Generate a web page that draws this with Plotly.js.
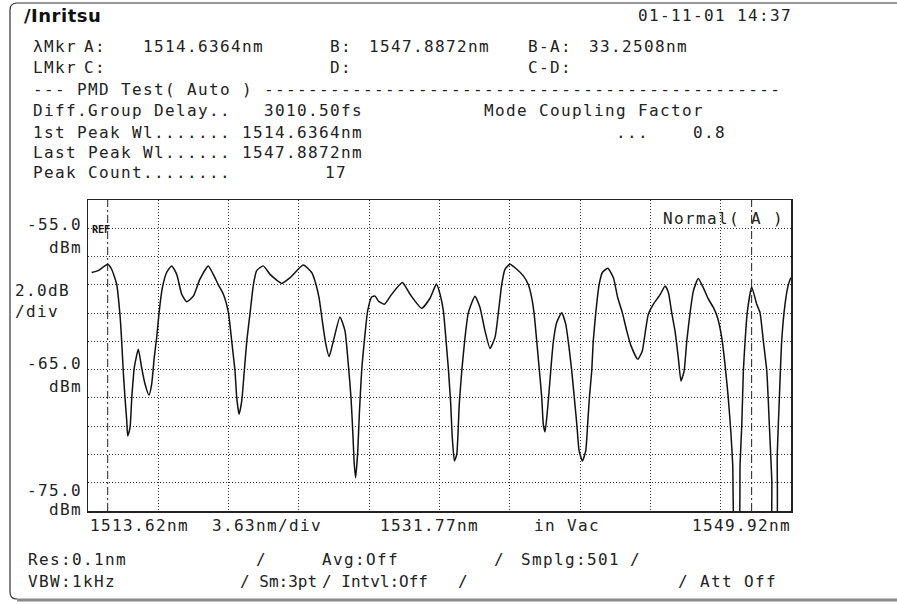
<!DOCTYPE html>
<html>
<head>
<meta charset="utf-8">
<script src="https://cdn.plot.ly/plotly-3.0.1.min.js"></script>
<style>
  html, body { margin: 0; padding: 0; background: #fff; }
  #plot { width: 897px; height: 604px; }
  .annotation-text { letter-spacing: 1.37px; }
</style>
</head>
<body>
<div id="plot"></div>
<script>
// ---- data ----
const wavelength = [
  1513.81, 1514.15, 1514.64, 1514.84, 1515.10,
  1515.27, 1515.36, 1515.44, 1515.53, 1515.62,
  1515.67, 1515.79, 1515.88, 1516.01, 1516.22,
  1516.39, 1516.56, 1516.77, 1516.91, 1517.04,
  1517.17, 1517.29, 1517.46, 1517.68, 1517.94,
  1518.20, 1518.46, 1518.72, 1519.06, 1519.40,
  1519.83, 1520.09, 1520.35, 1520.61, 1520.87,
  1521.04, 1521.21, 1521.30, 1521.42, 1521.56,
  1521.69, 1521.82, 1521.99, 1522.16, 1522.33,
  1522.67, 1523.02, 1523.62, 1524.05, 1524.74,
  1525.17, 1525.34, 1525.55, 1525.72, 1525.90,
  1526.07, 1526.29, 1526.63, 1526.89, 1527.06,
  1527.20, 1527.29, 1527.37, 1527.44, 1527.55,
  1527.63, 1527.75, 1527.89, 1528.06, 1528.27,
  1528.44, 1528.61, 1528.92, 1529.30, 1529.85,
  1530.25, 1530.85, 1531.28, 1531.61, 1531.80,
  1531.97, 1532.11, 1532.23, 1532.35, 1532.43,
  1532.54, 1532.66, 1532.79, 1532.92, 1533.09,
  1533.26, 1533.60, 1533.86, 1534.12, 1534.38,
  1534.64, 1534.81, 1534.98, 1535.15, 1535.41,
  1535.76, 1536.10, 1536.36, 1536.53, 1536.65,
  1536.79, 1536.93, 1537.05, 1537.13, 1537.22,
  1537.35, 1537.46, 1537.56, 1537.65, 1537.82,
  1538.08, 1538.29, 1538.46, 1538.60, 1538.73,
  1538.86, 1538.98, 1539.15, 1539.32, 1539.42,
  1539.51, 1539.63, 1539.71, 1539.84, 1540.01,
  1540.18, 1540.46, 1540.75, 1540.97, 1541.21,
  1541.44, 1541.66, 1542.01, 1542.24, 1542.38,
  1542.55, 1542.81, 1543.16, 1543.42, 1543.59,
  1543.76, 1543.93, 1544.10, 1544.24, 1544.40,
  1544.54, 1544.71, 1544.88, 1545.13, 1545.39,
  1545.65, 1545.91, 1546.12, 1546.34, 1546.51,
  1546.68, 1546.81, 1546.91, 1547.03, 1547.20,
  1547.29, 1547.38, 1547.46, 1547.55, 1547.66,
  1547.89, 1548.15, 1548.32, 1548.49, 1548.67,
  1548.80, 1548.93, 1548.98, 1549.15, 1549.21,
  1549.32, 1549.44, 1549.61, 1549.78, 1549.91
];
const powerDbm = [
  -58.13, -58.0, -57.55, -57.9, -58.96,
  -61.1, -63.0, -65.1, -67.0, -68.6,
  -69.7, -69.1, -67.0, -64.86, -63.56,
  -64.86, -66.0, -66.8, -66.0, -64.15,
  -62.7, -60.97, -59.2, -58.13, -57.66,
  -58.26, -59.67, -60.2, -59.8, -58.6,
  -57.66, -58.26, -59.0, -59.67, -60.97,
  -62.97, -65.1, -66.98, -68.16, -67.2,
  -65.1, -62.97, -60.97, -59.0, -58.0,
  -57.66, -58.26, -58.9, -58.5, -57.6,
  -58.13, -58.73, -59.9, -61.56, -63.2,
  -64.08, -62.97, -61.27, -62.26, -64.6,
  -66.98, -69.34, -71.7, -72.64, -70.75,
  -68.16, -65.1, -62.97, -60.85, -59.86,
  -59.8, -60.14, -60.38, -59.67, -58.84,
  -59.67, -60.66, -59.95, -58.95, -59.67,
  -60.85, -62.97, -64.98, -67.45, -69.8,
  -71.46, -71.0, -67.45, -65.1, -62.7,
  -60.97, -59.8, -60.6, -62.26, -63.5,
  -62.7, -60.97, -59.0, -57.9, -57.55,
  -57.9, -58.37, -59.0, -59.9, -60.97,
  -62.97, -65.1, -66.98, -68.87, -69.4,
  -67.8, -66.0, -64.3, -63.0, -61.67,
  -60.97, -61.8, -63.44, -65.1, -66.98,
  -68.87, -70.75, -71.46, -70.75, -68.87,
  -66.98, -65.1, -62.97, -60.97, -59.0,
  -58.13, -57.83, -58.5, -59.9, -60.97,
  -62.26, -63.32, -64.27, -63.68, -62.5,
  -61.09, -60.38, -59.7, -59.08, -59.55,
  -60.97, -62.26, -64.15, -65.8, -65.1,
  -62.97, -60.97, -59.43, -58.56, -59.2,
  -60.0, -60.6, -61.3, -62.7, -64.6,
  -66.98, -69.34, -71.7, -77, -77,
  -71.7, -68.87, -65.1, -62.97, -60.97,
  -59.15, -60.38, -60.97, -62.97, -65.1,
  -68.87, -72.88, -77, -77, -71.0,
  -66.98, -62.97, -60.38, -59.0, -58.5
];
const markerWavelengths = [1514.6364, 1547.8872];   // λMkr A, B
const xStart = 1513.62, xStep = 3.63, xEnd = 1549.92;
const yBottom = -75.0, yTop = -53.0, yStep = 2.0;
const xTickLabels = ["1513.62nm", "3.63nm/div", "1531.77nm", "in Vac", "1549.92nm"];
const yTickLabels = ["-55.0", "-65.0", "-75.0"];

// ---- layout helpers (pixel -> paper) ----
const L = 88, R = 791, T = 200, B = 511;
const X = px => (px - L) / (R - L);
const Y = py => (B - py) / (B - T);
const FONT = 'DejaVu Sans Mono';
const INK = '#222';
function txt(s, px, py, o) {
  o = o || {};
  let t = s.replace(/ /g, '\u00a0');
  if (o.ls !== undefined) t = '<span style="letter-spacing:' + o.ls + 'px">' + t + '</span>';
  return {
    text: t,
    xref: 'paper', yref: 'paper', x: X(px), y: Y(py),
    xanchor: o.anchor || 'left', yanchor: 'middle', showarrow: false,
    borderpad: 0, borderwidth: 0,
    font: { family: o.family || FONT, size: o.size || 16, color: o.color || INK, weight: o.weight || 'normal' }
  };
}
const col = c => 33 + c * 11;

const ann = [];
ann.push(txt('/Inritsu', 24, 16, { family: 'DejaVu Sans', size: 18, weight: 'bold', color: '#111', ls: 0.5 }));
ann.push(txt('01-11-01 14:37', col(55), 16));
// λMkr row
ann.push(txt('λMkr', col(0), 46));
ann.push(txt('A:', 84, 46));
ann.push(txt('1514.6364nm', col(10), 46));
ann.push(txt('B:', col(27), 46));
ann.push(txt('1547.8872nm', col(30.5), 46));
ann.push(txt('B-A:', col(45), 46));
ann.push(txt('33.2508nm', col(50.5), 46));
// LMkr row
ann.push(txt('LMkr', col(0), 67));
ann.push(txt('C:', 84, 67));
ann.push(txt('D:', col(27), 67));
ann.push(txt('C-D:', col(45), 67));
// PMD block
ann.push(txt('--- PMD Test( Auto ) ' + '-'.repeat(47), col(0), 89));
ann.push(txt('Diff.Group Delay..', col(0), 110));
ann.push(txt('3010.50fs', col(21), 110));
ann.push(txt('Mode Coupling Factor', col(41), 110));
ann.push(txt('1st Peak Wl.......', col(0), 132));
ann.push(txt('1514.6364nm', col(19), 132));
ann.push(txt('...', col(53), 132));
ann.push(txt('0.8', col(60), 132));
ann.push(txt('Last Peak Wl......', col(0), 152));
ann.push(txt('1547.8872nm', col(19), 152));
ann.push(txt('Peak Count........', col(0), 172));
ann.push(txt('17', col(26.5), 172));

// in-plot labels
ann.push(txt('REF', 92, 229, { size: 10, weight: 'bold', color: '#111', ls: 0 }));
ann.push(txt('Normal( A )', 663, 219));

// y labels
ann.push(txt(yTickLabels[0], 27, 224));
ann.push(txt('dBm', 49, 247));
ann.push(txt('2.0dB', 15, 290));
ann.push(txt('/div', 15, 311));
ann.push(txt(yTickLabels[1], 27, 363));
ann.push(txt('dBm', 49, 386));
ann.push(txt(yTickLabels[2], 27, 490));
ann.push(txt('dBm', 49, 509));

// x labels
ann.push(txt(xTickLabels[0], 90, 525));
ann.push(txt(xTickLabels[1], 212, 525));
ann.push(txt(xTickLabels[2], 380, 525));
ann.push(txt(xTickLabels[3], 534, 525));
ann.push(txt(xTickLabels[4], 791, 525, { anchor: 'right' }));

// settings rows
ann.push(txt('Res:0.1nm', 28, 559));
ann.push(txt('/', 256, 559));
ann.push(txt('Avg:Off', 322, 559));
ann.push(txt('/', 494, 559));
ann.push(txt('Smplg:501', 521, 559));
ann.push(txt('/', 630, 559));
ann.push(txt('VBW:1kHz', 28, 581));
ann.push(txt('/ Sm:3pt', 240, 581, { ls: 0 }));
ann.push(txt('/ Intvl:Off', 322, 581, { ls: 0 }));
ann.push(txt('/', 458, 581));
ann.push(txt('/ Att Off', 678, 581));

// shapes: marker lines + outer frame
const shapes = markerWavelengths.map(w => ({
  type: 'line', xref: 'x', yref: 'paper', x0: w, x1: w, y0: 0, y1: 1,
  line: { color: '#222', width: 1, dash: '8px,3px,2px,3px' }
}));
const P = (px, py) => X(px).toFixed(5) + ',' + Y(py).toFixed(5);
shapes.push({
  type: 'path', xref: 'paper', yref: 'paper',
  path: 'M' + P(897, 3) + ' L' + P(17, 3) + ' Q' + P(10, 3) + ' ' + P(10, 10) +
        ' L' + P(10, 592) + ' Q' + P(10, 599) + ' ' + P(17, 599),
  line: { color: '#333', width: 1.2 }
});
shapes.push({
  type: 'line', xref: 'paper', yref: 'paper',
  x0: X(17), x1: X(897), y0: Y(600), y1: Y(600),
  line: { color: '#8a8a8a', width: 3 }
});

const trace = {
  type: 'scatter', mode: 'lines',
  x: wavelength, y: powerDbm,
  line: { color: '#111', width: 1.5, shape: 'spline', smoothing: 0.5 },
  hoverinfo: 'skip'
};

const layout = {
  width: 897, height: 604,
  margin: { l: L, r: 897 - R, t: T, b: 604 - B, pad: 0 },
  paper_bgcolor: '#fff', plot_bgcolor: '#fff',
  showlegend: false,
  xaxis: {
    range: [xStart, xEnd], tick0: xStart, dtick: xStep, tickmode: 'linear',
    showticklabels: false, ticks: '', zeroline: false,
    showgrid: true, gridcolor: '#333', gridwidth: 1, griddash: '1px,2px',
    showline: true, linecolor: '#222', linewidth: 1.5, mirror: true
  },
  yaxis: {
    range: [yBottom, yTop], tick0: yBottom, dtick: yStep, tickmode: 'linear',
    showticklabels: false, ticks: '', zeroline: false,
    showgrid: true, gridcolor: '#333', gridwidth: 1, griddash: '1px,2px',
    showline: true, linecolor: '#222', linewidth: 1.5, mirror: true
  },
  annotations: ann,
  shapes: shapes
};

Plotly.newPlot('plot', [trace], layout, { staticPlot: true, displayModeBar: false });
</script>
</body>
</html>
